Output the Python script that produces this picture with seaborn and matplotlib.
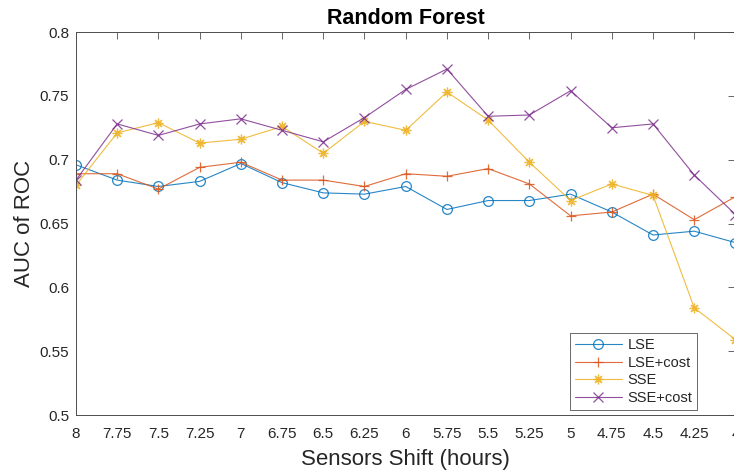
import numpy as np
import pandas as pd
import matplotlib
matplotlib.use("Agg")
import matplotlib.pyplot as plt
from matplotlib.ticker import FormatStrFormatter
import seaborn as sns

# Sensor shift in hours (x axis runs from 8 down to 4)
shift = [8, 7.75, 7.5, 7.25, 7, 6.75, 6.5, 6.25, 6, 5.75, 5.5, 5.25, 5, 4.75, 4.5, 4.25, 4]

lse = [0.696, 0.684, 0.679, 0.683, 0.697, 0.682, 0.674, 0.673, 0.679, 0.661,
       0.668, 0.668, 0.673, 0.659, 0.641, 0.644, 0.635]
lse_cost = [0.689, 0.689, 0.677, 0.694, 0.698, 0.684, 0.684, 0.679, 0.689, 0.687,
            0.693, 0.681, 0.656, 0.659, 0.673, 0.653, 0.671]
sse = [0.680, 0.721, 0.729, 0.713, 0.716, 0.726, 0.705, 0.730, 0.723, 0.753,
       0.731, 0.698, 0.668, 0.681, 0.672, 0.584, 0.559]
sse_cost = [0.684, 0.728, 0.719, 0.728, 0.732, 0.723, 0.714, 0.733, 0.755, 0.771,
            0.734, 0.735, 0.754, 0.725, 0.728, 0.688, 0.657]

labels = ["LSE", "LSE+cost", "SSE", "SSE+cost"]
colors = ["#0072BD", "#D95319", "#EDB120", "#7E2F8E"]
markers = ["o", "+", (8, 2, 0), "x"]

sns.set_style("white")
plt.rcParams['font.family'] = ['Liberation Sans', 'DejaVu Sans']
text_col = "#262626"

fig = plt.figure(figsize=(7.34, 4.75), dpi=100)
# right spine sits just past the image edge, as in the cropped original
ax = fig.add_axes([0.1035, 0.1263, 0.8985, 0.8063])

for lab, vals, col, mk in zip(labels, [lse, lse_cost, sse, sse_cost], colors, markers):
    df = pd.DataFrame({"shift": shift, "auc": vals})
    kw = dict(markerfacecolor="none") if mk == "o" else {}
    sns.lineplot(data=df, x="shift", y="auc", ax=ax, color=col, marker=mk,
                 markersize=7, markeredgecolor=col, markeredgewidth=0.9,
                 linewidth=0.8, label=lab, alpha=0.85, **kw)

ax.set_xlim(8, 4)
ax.set_ylim(0.5, 0.8)
ax.set_xticks(shift)
ax.set_yticks(np.arange(0.5, 0.801, 0.05))
ax.xaxis.set_major_formatter(FormatStrFormatter('%g'))
ax.yaxis.set_major_formatter(lambda v, p: f"{v:g}")

ax.tick_params(direction="in", length=5, width=0.6, colors="#4d4d4d",
               labelcolor=text_col, labelsize=11, top=True, right=True, pad=5)
ax.tick_params(axis="x", pad=8.5)
for s in ax.spines.values():
    s.set_color("#4d4d4d")
    s.set_linewidth(0.7)

ax.set_title("Random Forest", fontsize=15.5, fontweight="bold", color="black", pad=6)
ax.set_xlabel("Sensors Shift (hours)", fontsize=16, color=text_col, labelpad=6)
ax.set_ylabel("AUC of ROC", fontsize=16, color=text_col, labelpad=3)

leg = ax.legend(loc="lower right", bbox_to_anchor=(0.9423, 0.013), borderaxespad=0,
                fontsize=10.5, frameon=True, fancybox=False, handlelength=3.2,
                labelspacing=0.25, borderpad=0.35, handletextpad=0.4)
leg.get_frame().set_edgecolor("#262626")
leg.get_frame().set_linewidth(0.6)
for t in leg.get_texts():
    t.set_color(text_col)

fig.savefig("out.png", dpi=100)
